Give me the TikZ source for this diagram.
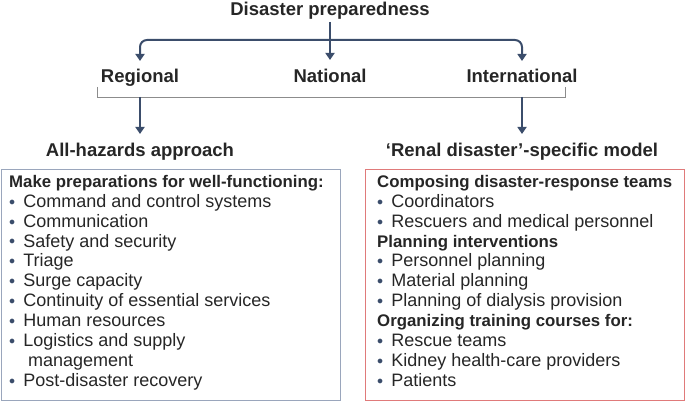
\documentclass[tikz,border=0pt]{standalone}
\usepackage{fontspec}
\setmainfont{Liberation Sans}
\usetikzlibrary{arrows.meta}
\definecolor{navy}{HTML}{3B4D6B}
\definecolor{boxblue}{HTML}{9AA6BC}
\definecolor{boxred}{HTML}{E07A7A}
\tikzset{
 conn/.style={draw=navy,line width=2pt,-{Triangle[length=7pt,width=9pt]}},
 head/.style={font=\fontsize{18.5}{20}\selectfont\bfseries,text=black!85,inner sep=0,anchor=base},
 listtext/.style={font=\fontsize{18}{19.9}\selectfont,align=left,anchor=north west,inner sep=0,text=black!85},
}
\newcommand{\bul}{\textcolor{navy}{\raisebox{0.12em}{\scalebox{0.7}{$\bullet$}}}\hspace{0.45em}}
\newcommand{\hd}[1]{{\fontsize{16.8}{19.9}\selectfont\bfseries #1}}
\begin{document}
\begin{tikzpicture}[x=1pt,y=-1pt]
\useasboundingbox (0,0) rectangle (685,401);
\node[head] (title) at (330,16) {Disaster preparedness};
\node[head] (reg) at (140,83) {Regional};
\node[head] (nat) at (330,83) {National};
\node[head] (int) at (522,83) {International};
\node[head] (all) at (140,156) {All-hazards approach};
\node[head] (ren) at (522,156) {‘Renal disaster’-specific model};
\coordinate (tb) at (330,22);
\coordinate (bl) at (140,97);
\coordinate (br) at (522,97);
\draw[conn] (tb) -- (330,60);
\draw[draw=navy,line width=2pt,rounded corners=7pt,-{Triangle[length=7pt,width=9pt]}] (330,40) -| (140,61);
\draw[draw=navy,line width=2pt,rounded corners=7pt,-{Triangle[length=7pt,width=9pt]}] (330,40) -| (522,61);
\draw[black!45,line width=0.8pt] (97,87) -- (97,97) -- (565,97) -- (565,87);
\draw[conn] (bl) -- (140,134);
\draw[conn] (br) -- (522,134);
\draw[boxblue,line width=1pt] (1.5,169) rectangle (340.5,400);
\draw[boxred,line width=1pt] (365.5,169) rectangle (684,400);
\node[listtext] (L) at (9,175) {\hd{Make preparations for well-functioning:}\\
\bul Command and control systems\\
\bul Communication\\
\bul Safety and security\\
\bul Triage\\
\bul Surge capacity\\
\bul Continuity of essential services\\
\bul Human resources\\
\bul Logistics and supply\\
\hspace{1.05em}management\\
\bul Post-disaster recovery};
\node[listtext] (R) at (377,175) {\hd{Composing disaster-response teams}\\
\bul Coordinators\\
\bul Rescuers and medical personnel\\
\hd{Planning interventions}\\
\bul Personnel planning\\
\bul Material planning\\
\bul Planning of dialysis provision\\
\hd{Organizing training courses for:}\\
\bul Rescue teams\\
\bul Kidney health-care providers\\
\bul Patients};
\end{tikzpicture}
\end{document}
